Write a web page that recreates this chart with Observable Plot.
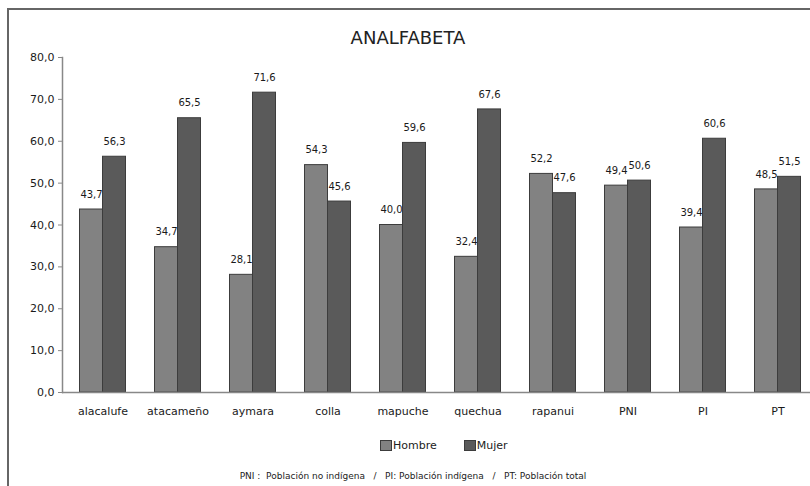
<!DOCTYPE html>
<html>
<head>
<meta charset="utf-8">
<script src="https://cdn.jsdelivr.net/npm/d3@7"></script>
<script src="https://cdn.jsdelivr.net/npm/@observablehq/plot@0.6"></script>
<style>
  body { margin: 0; background: #fff; font-family: "DejaVu Sans", sans-serif; }
  #chart { position: relative; width: 810px; height: 486px; overflow: hidden; background: #fff; }
  #border { position: absolute; left: 7px; top: 8px; right: -10px; bottom: -10px;
            border-left: 2px solid #666; border-top: 2px solid #666; }
  #title { position: absolute; top: 27px; left: 0; width: 816px; text-align: center;
           font-size: 18px; line-height: 22px; color: #222; }
  #plot { position: absolute; top: 50px; left: 0; }
  #legend { position: absolute; top: 439px; left: 380px; display: flex; align-items: center;
            font-size: 11px; color: #222; }
  #legend .item { display: flex; align-items: center; margin-right: 27px; }
  #legend .sw { width: 10px; height: 9px; border: 1px solid #3c3c3c; margin-right: 1px; }
  #note { position: absolute; top: 471px; left: 0; width: 826px; text-align: center;
          font-size: 9px; color: #222; white-space: pre; }
</style>
</head>
<body>
<div id="chart">
  <div id="border"></div>
  <div id="title">ANALFABETA</div>
  <div id="plot"></div>
  <div id="legend"></div>
  <div id="note">PNI :  Población no indígena   /   PI: Población indígena   /   PT: Población total</div>
</div>
<script>
// Illiteracy rate (%) by people and sex
const categories = ["alacalufe", "atacameño", "aymara", "colla", "mapuche", "quechua", "rapanui", "PNI", "PI", "PT"];
const hombre = [43.7, 34.7, 28.1, 54.3, 40.0, 32.4, 52.2, 49.4, 39.4, 48.5];
const mujer  = [56.3, 65.5, 71.6, 45.6, 59.6, 67.6, 47.6, 50.6, 60.6, 51.5];
const seriesNames = ["Hombre", "Mujer"];
const seriesColors = ["#828282", "#5a5a5a"];
const yTicks = [0, 10, 20, 30, 40, 50, 60, 70, 80];

const rows = categories.flatMap((cat, i) => [
  {cat, sexo: seriesNames[0], value: hombre[i]},
  {cat, sexo: seriesNames[1], value: mujer[i]}
]);
const fmt = v => v.toFixed(1).replace(".", ",");
const half = 11.5; // half a group: each series sits on one side of the category centre

const barMark = (name, dx) => Plot.barY(rows.filter(d => d.sexo === name), {
  x: "cat", y: "value", fill: "sexo", stroke: "#3c3c3c", strokeWidth: 1, dx
});
const labelMark = (name, dx) => Plot.text(rows.filter(d => d.sexo === name), {
  x: "cat", y: "value", text: d => fmt(d.value), dx, dy: -15,
  fontSize: 10, fill: "#1a1a1a", stroke: "white", strokeWidth: 3
});

const chart = Plot.plot({
  width: 810,
  height: 375,
  marginTop: 7,
  marginBottom: 33,
  marginLeft: 62,
  marginRight: -8,
  style: {fontFamily: "DejaVu Sans, sans-serif", background: "transparent", color: "#1a1a1a"},
  x: {domain: categories, paddingInner: 0.696, paddingOuter: 0.348, label: null},
  y: {domain: [0, 80], label: null},
  color: {domain: seriesNames, range: seriesColors},
  marks: [
    labelMark("Hombre", -half),
    labelMark("Mujer", half),
    barMark("Hombre", -half),
    barMark("Mujer", half),
    Plot.ruleY([0], {stroke: "#888", strokeWidth: 1.5}),
    Plot.frame({anchor: "left", stroke: "#888", strokeWidth: 1.5}),
    Plot.axisY({ticks: yTicks, tickFormat: fmt, tickSize: 4, tickPadding: 4, fontSize: 11, stroke: "#888", label: null}),
    Plot.axisX({tickSize: 0, tickPadding: 15, fontSize: 11, label: null})
  ]
});
document.getElementById("plot").appendChild(chart);

// legend
const legend = document.getElementById("legend");
seriesNames.forEach((name, i) => {
  const item = document.createElement("div");
  item.className = "item";
  const sw = document.createElement("span");
  sw.className = "sw";
  sw.style.background = seriesColors[i];
  const label = document.createElement("span");
  label.textContent = name;
  item.append(sw, label);
  legend.appendChild(item);
});
</script>
</body>
</html>
